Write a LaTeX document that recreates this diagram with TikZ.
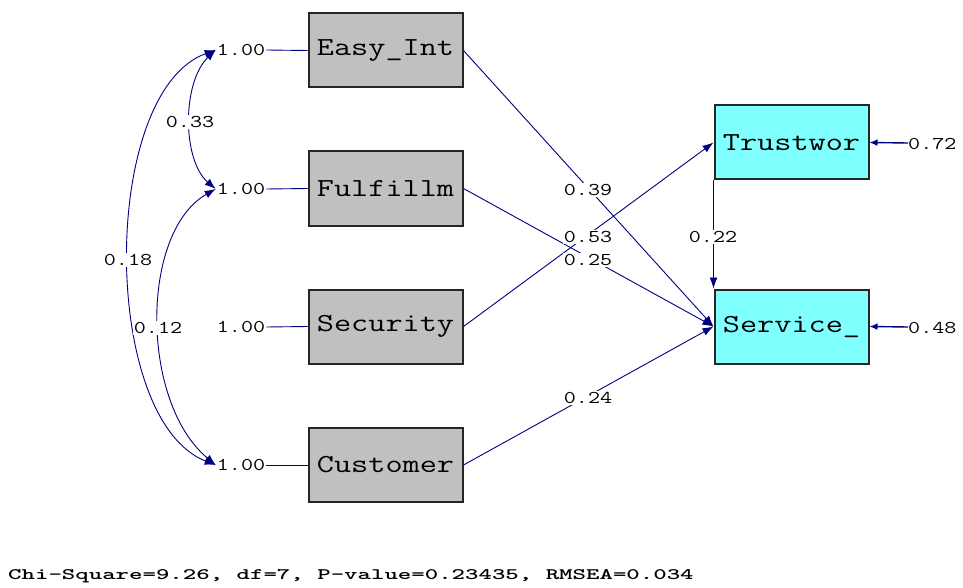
\documentclass[tikz,border=0pt]{standalone}
\usepackage{fontspec}
\usetikzlibrary{arrows.meta}
\definecolor{lnavy}{HTML}{000080}
\definecolor{boxgray}{HTML}{C0C0C0}
\definecolor{boxcyan}{HTML}{80FFFF}
\newcommand{\sx}[1]{\scalebox{1.28}[1]{#1}}
\newcommand{\slab}[1]{\scalebox{1.3}[1]{#1}}
\begin{document}
\begin{tikzpicture}[x=1pt,y=-1pt,
  obs/.style={draw=black!85, line width=2pt, fill=boxgray, minimum width=154pt, minimum height=74pt, inner sep=0pt, font=\ttfamily\fontsize{26}{26}\selectfont},
  lat/.style={obs, fill=boxcyan},
  lab/.style={fill=white, inner sep=1pt, font=\ttfamily\fontsize{18}{18}\selectfont},
  pth/.style={draw=lnavy, line width=0.9pt},
  arr/.style={pth, -{Latex[length=11pt,width=8pt]}},
  cov/.style={pth, {Latex[length=11pt,width=8pt]}-{Latex[length=11pt,width=8pt]}},
  err/.style={pth, line width=1.4pt, -{Latex[length=8pt,width=7pt]}}]
\useasboundingbox (0,0) rectangle (963,588);
% observed boxes
\node[obs] (easy) at (385.5,50.5) {\sx{Easy\_Int}};
\node[obs] (fulf) at (385.5,188.5) {\sx{Fulfillm}};
\node[obs] (secu) at (385.5,326.5) {\sx{Security}};
\node[obs] (cust) at (385.5,465) {\sx{Customer}};
\node[lat] (trust) at (791.5,142.5) {\sx{Trustwor}};
\node[lat] (serv) at (791.5,326.5) {\sx{Service\_}};
% 1.00 labels
\node[lab] (l1) at (241,50) {\slab{1.00}};
\node[lab] (l2) at (241,189) {\slab{1.00}};
\node[lab] (l3) at (241,327) {\slab{1.00}};
\node[lab] (l4) at (241,465) {\slab{1.00}};
\draw[pth] (l1.east) -- (easy.west);
\draw[pth] (l2.east) -- (fulf.west);
\draw[pth] (l3.east) -- (secu.west);
\draw[pth] (l4.east) -- (cust.west);
% covariances
\draw[cov] (l1.west) .. controls (182,82) and (182,160) .. (l2.west);
\draw[cov] (l1.west) .. controls (100,92) and (100,420) .. (l4.west);
\draw[cov] (l2.west) .. controls (140,232) and (140,402) .. (l4.west);
% structural paths
\draw[arr] (easy.east) -- (serv.west);
\draw[arr] (fulf.east) -- (serv.west);
\draw[arr] (secu.east) -- (trust.west);
\draw[arr] (cust.east) -- (serv.west);
\draw[arr] (trust.south west) -- (serv.north west);
% errors
\coordinate (e1) at (908,143);
\coordinate (e2) at (908,327);
\draw[err] (e1) -- (trust.east);
\draw[err] (e2) -- (serv.east);
\node[lab, anchor=west, fill=none] (v1) at (907,144) {\slab{0.72}};
\node[lab, anchor=west, fill=none] (v2) at (907,328) {\slab{0.48}};
% coefficient labels
\node[lab] (c33) at (190,122) {\slab{0.33}};
\node[lab] (c18) at (128,260) {\slab{0.18}};
\node[lab] (c12) at (158,328) {\slab{0.12}};
\node[lab] (c39) at (588,190) {\slab{0.39}};
\node[lab] (c53) at (588,237) {\slab{0.53}};
\node[lab] (c25) at (588,260) {\slab{0.25}};
\node[lab] (c24) at (588,398) {\slab{0.24}};
\node[lab] (c22) at (713,237) {\slab{0.22}};
% fit statistics
\node[anchor=west, inner sep=0pt, font=\ttfamily\bfseries\fontsize{16}{16}\selectfont] (fit) at (8,576) {\scalebox{1.6}[1]{Chi-Square=9.26, df=7, P-value=0.23435, RMSEA=0.034}};
\end{tikzpicture}
\end{document}
